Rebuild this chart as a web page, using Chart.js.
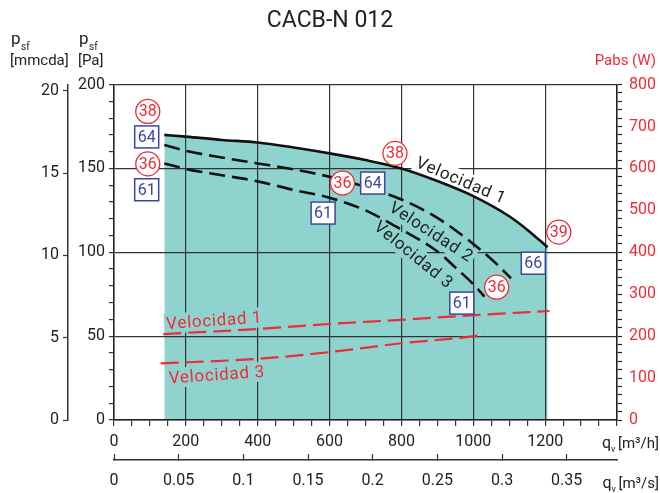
<!DOCTYPE html>
<html>
<head>
<meta charset="utf-8">
<script src="https://cdn.jsdelivr.net/npm/chart.js@4.4.1/dist/chart.umd.min.js"></script>
<style>
  body { margin: 0; background: #fff; }
  #wrap { width: 660px; height: 493px; }
</style>
</head>
<body>
<div id="wrap"><canvas id="fanChart" width="660" height="493"></canvas></div>
<script>
// caudal q_v (m3/h) y presion estatica p_sf (Pa)
const qVel1 = [140, 200, 300, 400, 500, 600, 700, 800, 900, 1000, 1100, 1150, 1207];
const pVel1 = [170, 169, 167, 165.5, 162.5, 159, 155, 150, 142.5, 133.5, 121.5, 113.5, 103];
const qVel2 = [140, 200, 300, 400, 500, 600, 700, 800, 900, 1000, 1060, 1105];
const pVel2 = [164, 160.5, 156.5, 153, 149.5, 145, 139, 131.5, 120.5, 105, 94, 84.5];
const qVel3 = [140, 200, 300, 400, 500, 600, 700, 800, 900, 950, 1000, 1031];
const pVel3 = [153, 149.7, 146, 142.3, 137.2, 132.5, 125, 113.5, 100.5, 91, 81, 73.6];

// potencia absorbida Pabs (W)
const qPow1 = [137, 400, 600, 800, 1000, 1212];
const wPow1 = [205, 217, 229, 239, 250, 260];
const qPow3 = [130, 400, 600, 800, 1000, 1031];
const wPow3 = [135, 146, 162, 183, 200, 205];

// ticks de los ejes secundarios
const mmcdaTicks = [0, 5, 10, 15, 20];
const m3sTicks = [0, 0.05, 0.1, 0.15, 0.2, 0.25, 0.3, 0.35];

// etiquetas: texto, q, p
const circleNotes = [['38', 94, 184], ['36', 94, 152.7], ['36', 636, 141.3], ['38', 782, 159], ['39', 1238, 112], ['36', 1065, 79.2]];
const boxNotes = [['64', 91, 168.8], ['61', 91, 137.3], ['61', 582, 123.4], ['64', 720, 141.3], ['66', 1167, 93.5], ['61', 968, 69.7]];

const RED = '#ec2d37';
const BLUE = '#3a47a0';
const TEAL = '#8fd3cf';
const INK = '#222';
const FONT = 'Roboto, "Open Sans", sans-serif';

// texto, q, p, angulo, color, fondo
const curveNames = [
  ['Velocidad 1', 966, 142.9, 23, INK, '#fff'],
  ['Velocidad 2', 883, 112.1, 33, INK, TEAL],
  ['Velocidad 3', 834, 98.5, 39, INK, TEAL],
  ['Velocidad 1', 279, 59.3, -4, RED, TEAL],
  ['Velocidad 3', 286, 26.9, -4, RED, TEAL]
];

const pts = (xs, ys) => xs.map((x, i) => ({x: x, y: ys[i]}));

function toPx(chart, q, p) {
  return [chart.scales.x.getPixelForValue(q), chart.scales.y.getPixelForValue(p)];
}

const notesPlugin = {
  id: 'notes',
  beforeDatasetsDraw(chart) {
    const ctx = chart.ctx;
    curveNames.forEach(([txt, q, p, ang, col, bg]) => {
      const [x, y] = toPx(chart, q, p);
      ctx.save();
      ctx.translate(x, y);
      ctx.rotate(ang * Math.PI / 180);
      ctx.font = '17px ' + FONT;
      ctx.letterSpacing = '0.7px';
      const w = ctx.measureText(txt).width;
      ctx.fillStyle = bg;
      ctx.fillRect(-w / 2 - 2, -10, w + 4, 20);
      ctx.restore();
    });
  },
  afterDatasetsDraw(chart) {
    const ctx = chart.ctx;
    curveNames.forEach(([txt, q, p, ang, col]) => {
      const [x, y] = toPx(chart, q, p);
      ctx.save();
      ctx.translate(x, y);
      ctx.rotate(ang * Math.PI / 180);
      ctx.font = '17px ' + FONT;
      ctx.letterSpacing = '0.7px';
      ctx.fillStyle = col;
      ctx.textAlign = 'center';
      ctx.textBaseline = 'middle';
      ctx.fillText(txt, 0, 1);
      ctx.restore();
    });

    ctx.save();
    ctx.font = '16px ' + FONT;
    ctx.textAlign = 'center';
    ctx.textBaseline = 'middle';
    circleNotes.forEach(([txt, q, p]) => {
      const [x, y] = toPx(chart, q, p);
      ctx.beginPath();
      ctx.arc(x, y, 12, 0, Math.PI * 2);
      ctx.fillStyle = '#fff';
      ctx.fill();
      ctx.lineWidth = 1.3;
      ctx.strokeStyle = RED;
      ctx.stroke();
      ctx.fillStyle = RED;
      ctx.fillText(txt, x, y + 1);
    });
    boxNotes.forEach(([txt, q, p]) => {
      const [x, y] = toPx(chart, q, p);
      ctx.fillStyle = '#fff';
      ctx.fillRect(x - 12, y - 11, 24, 22);
      ctx.lineWidth = 1.5;
      ctx.strokeStyle = BLUE;
      ctx.strokeRect(x - 12, y - 11, 24, 22);
      ctx.fillStyle = BLUE;
      ctx.fillText(txt, x, y + 1);
    });
    ctx.restore();
  },
  afterDraw(chart) {
    const ctx = chart.ctx;
    ctx.save();
    ctx.textBaseline = 'alphabetic';
    ctx.fillStyle = INK;
    // p_sf [mmcda] y p_sf [Pa]
    [[11, '[mmcda]'], [79, '[Pa]']].forEach(([x0, unit]) => {
      ctx.font = '17px ' + FONT;
      ctx.fillText('p', x0, 44);
      ctx.font = '10px ' + FONT;
      ctx.fillText('sf', x0 + 10, 50);
      ctx.font = '15px ' + FONT;
      ctx.fillText(unit, x0 - 1, 65);
    });
    ctx.fillStyle = RED;
    ctx.font = '15px ' + FONT;
    ctx.textAlign = 'right';
    ctx.fillText('Pabs (W)', 656, 65);
    // q_v
    ctx.fillStyle = INK;
    [[448, '[m\u00b3/h]'], [488, '[m\u00b3/s]']].forEach(([yb, unit]) => {
      ctx.textAlign = 'right';
      ctx.font = '15px ' + FONT;
      ctx.fillText(unit, 659, yb);
      const w = ctx.measureText(unit).width;
      ctx.textAlign = 'left';
      ctx.font = '16px ' + FONT;
      ctx.fillText('q', 659 - w - 16, yb);
      ctx.font = '9px ' + FONT;
      ctx.fillText('v', 659 - w - 7, yb + 4);
    });
    ctx.restore();
  }
};

const gridColor = (step) => (c) => (c.tick && Math.abs(c.tick.value % step) < 1e-6 ? '#333' : 'rgba(0,0,0,0)');

new Chart(document.getElementById('fanChart'), {
  type: 'line',
  data: {
    datasets: [
      { label: 'Velocidad 1', data: pts(qVel1, pVel1), yAxisID: 'y', borderColor: '#111', borderWidth: 2.6,
        fill: 'origin', backgroundColor: TEAL, pointRadius: 0, cubicInterpolationMode: 'monotone' },
      { label: 'Velocidad 2', data: pts(qVel2, pVel2), yAxisID: 'y', borderColor: '#111', borderWidth: 2.6,
        borderDash: [16, 7], fill: false, pointRadius: 0, cubicInterpolationMode: 'monotone' },
      { label: 'Velocidad 3', data: pts(qVel3, pVel3), yAxisID: 'y', borderColor: '#111', borderWidth: 2.6,
        borderDash: [16, 7], fill: false, pointRadius: 0, cubicInterpolationMode: 'monotone' },
      { label: 'Pabs Velocidad 1', data: pts(qPow1, wPow1), yAxisID: 'yR', borderColor: RED, borderWidth: 2.2,
        borderDash: [18, 7], fill: false, pointRadius: 0, cubicInterpolationMode: 'monotone' },
      { label: 'Pabs Velocidad 3', data: pts(qPow3, wPow3), yAxisID: 'yR', borderColor: RED, borderWidth: 2.2,
        borderDash: [18, 7], fill: false, pointRadius: 0, cubicInterpolationMode: 'monotone' }
    ]
  },
  options: {
    responsive: false,
    animation: false,
    devicePixelRatio: 1,
    layout: { padding: 0 },
    plugins: {
      legend: { display: false },
      tooltip: { enabled: false },
      filler: { drawTime: 'beforeDraw' },
      title: {
        display: true,
        text: 'CACB-N 012',
        color: INK,
        font: { family: FONT, size: 23, weight: 'normal' },
        padding: { top: 7, bottom: 50 }
      }
    },
    scales: {
      x: {
        type: 'linear', position: 'bottom', weight: 0,
        min: 0, max: 1400,
        ticks: { stepSize: 50, autoSkip: false, maxRotation: 0, padding: 6, color: INK,
          font: { family: FONT, size: 16 },
          callback: (v) => (v % 200 === 0 && v < 1400 ? v : '') },
        grid: { color: gridColor(200), lineWidth: 1.2, tickColor: '#333', tickLength: 6, tickWidth: 1.2 },
        border: { color: '#222', width: 1.5 },
        afterFit: (s) => { s.height = 40; }
      },
      x2: {
        type: 'linear', position: 'bottom', weight: 1,
        min: 0, max: 1400 / 3600,
        afterBuildTicks: (s) => { s.ticks = m3sTicks.map((v) => ({ value: v })); },
        ticks: { autoSkip: false, maxRotation: 0, padding: 17, color: INK,
          font: { family: FONT, size: 16 },
          callback: (v) => String(+v.toFixed(2)) },
        grid: { drawOnChartArea: false, tickColor: '#333', tickLength: -6, tickWidth: 1.2 },
        border: { color: '#333', width: 1.5 },
        afterFit: (s) => { s.height = 33; }
      },
      y: {
        type: 'linear', position: 'left', weight: 0,
        min: 0, max: 200,
        ticks: { stepSize: 10, autoSkip: false, padding: 4, color: INK,
          font: { family: FONT, size: 16 },
          callback: (v) => (v % 50 === 0 ? v : '') },
        grid: { color: gridColor(50), lineWidth: 1.2, tickColor: '#333', tickLength: 5, tickWidth: 1.2 },
        border: { color: '#222', width: 1.5 },
        afterFit: (s) => { s.width = 46; }
      },
      ymm: {
        type: 'linear', position: 'left', weight: 1,
        min: 0, max: 200 / 9.81,
        afterBuildTicks: (s) => { s.ticks = mmcdaTicks.map((v) => ({ value: v })); },
        ticks: { autoSkip: false, padding: 4, color: INK, font: { family: FONT, size: 16 } },
        grid: { drawOnChartArea: false, tickColor: '#333', tickLength: 5, tickWidth: 1.2 },
        border: { color: '#333', width: 1.5 },
        afterFit: (s) => { s.width = 68; }
      },
      yR: {
        type: 'linear', position: 'right',
        min: 0, max: 800,
        ticks: { stepSize: 20, autoSkip: false, padding: 7, color: RED,
          font: { family: FONT, size: 16 },
          callback: (v) => (v % 100 === 0 ? v : '') },
        grid: { drawOnChartArea: false, tickColor: '#222', tickLength: 5, tickWidth: 1.2 },
        border: { color: '#222', width: 1.5 },
        afterFit: (s) => { s.width = 43; }
      }
    }
  },
  plugins: [notesPlugin]
});
</script>
</body>
</html>
